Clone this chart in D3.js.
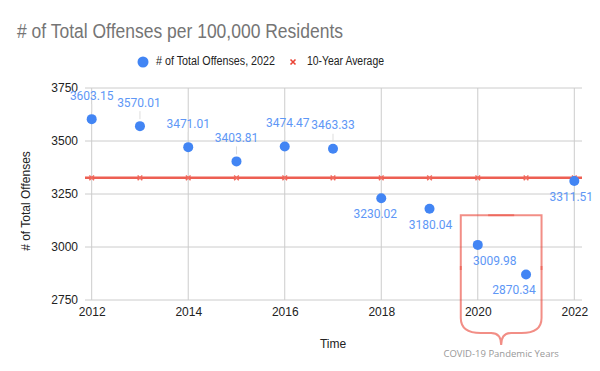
<!DOCTYPE html>
<html>
<head>
<meta charset="utf-8">
<script src="https://cdn.jsdelivr.net/npm/d3@7"></script>
<style>
  body { margin: 0; background: #fff; }
  svg { font-family: Arial, "Liberation Sans", sans-serif; }
</style>
</head>
<body>
<div id="chart"></div>
<script>
// data
const years = [2012, 2013, 2014, 2015, 2016, 2017, 2018, 2019, 2020, 2021, 2022];
const offenses = [3603.15, 3570.01, 3471.01, 3403.81, 3474.47, 3463.33, 3230.02, 3180.04, 3009.98, 2870.34, 3311.51];
const tenYearAvg = [3326.15, 3326.15, 3326.15, 3326.15, 3326.15, 3326.15, 3326.15, 3326.15, 3326.15, 3326.15, 3326.15];
const yTicks = [2750, 3000, 3250, 3500, 3750];
const xTicks = [2012, 2014, 2016, 2018, 2020, 2022];
const covidYears = [2020, 2021];

// label placement (above / below the point, small nudges)
const labelSide = ["up", "up", "up", "up", "up", "up", "down", "down", "down", "down", "down"];
const labelNudge = [0, -1, 0, 0, 3, 0, -6, 1, 17, -12, -3];

const W = 600, H = 371;
const roboto = "Roboto, Arial, sans-serif";

const svg = d3.select("#chart")
  .append("svg")
  .attr("width", W)
  .attr("height", H);

const x = d3.scaleLinear()
  .domain([2012, 2022])
  .range([91.7, 574.3]);

const y = d3.scaleLinear()
  .domain([2750, 3750])
  .range([300, 88]);

const left = 85, right = 582;

// title
svg.append("text")
  .attr("x", 17)
  .attr("y", 37.5)
  .attr("font-size", 20)
  .attr("fill", "#757575")
  .attr("textLength", 326)
  .attr("lengthAdjust", "spacingAndGlyphs")
  .text("# of Total Offenses per 100,000 Residents");

// legend
const legend = svg.append("g");
legend.append("circle")
  .attr("cx", 143).attr("cy", 62).attr("r", 5.5)
  .attr("fill", "#4285f4");
legend.append("text")
  .attr("x", 156).attr("y", 62)
  .attr("dominant-baseline", "middle")
  .attr("font-size", 12).attr("fill", "#222")
  .attr("textLength", 119)
  .attr("lengthAdjust", "spacingAndGlyphs")
  .text("# of Total Offenses, 2022");
legend.append("path")
  .attr("d", d3.symbol(d3.symbolX, 18)())
  .attr("transform", "translate(293,62)")
  .attr("stroke", "#ea4335").attr("stroke-width", 1.6);
legend.append("text")
  .attr("x", 307).attr("y", 62)
  .attr("dominant-baseline", "middle")
  .attr("font-size", 12).attr("fill", "#222")
  .attr("textLength", 77)
  .attr("lengthAdjust", "spacingAndGlyphs")
  .text("10-Year Average");

// grid
svg.append("g")
  .selectAll("line")
  .data(yTicks)
  .enter()
  .append("line")
  .attr("x1", left).attr("x2", right)
  .attr("y1", d => y(d)).attr("y2", d => y(d))
  .attr("stroke", "#ccc").attr("stroke-width", 1);

svg.append("g")
  .selectAll("line")
  .data(xTicks)
  .enter()
  .append("line")
  .attr("x1", d => x(d)).attr("x2", d => x(d))
  .attr("y1", y(2750)).attr("y2", y(3750))
  .attr("stroke", "#ccc").attr("stroke-width", 1);

// axes
const yAxis = d3.axisLeft(y)
  .tickValues(yTicks)
  .tickFormat(d3.format("d"))
  .tickSize(0)
  .tickPadding(7);

svg.append("g")
  .attr("transform", `translate(${left}, 0)`)
  .call(yAxis)
  .call(g => g.select(".domain").remove())
  .selectAll("text")
  .attr("font-size", 12)
  .attr("font-family", "Arial, sans-serif")
  .attr("fill", "#222");

const xAxis = d3.axisBottom(x)
  .tickValues(xTicks)
  .tickFormat(d3.format("d"))
  .tickSize(0)
  .tickPadding(7);

svg.append("g")
  .attr("transform", `translate(0, ${y(2750)})`)
  .call(xAxis)
  .call(g => g.select(".domain").remove())
  .selectAll("text")
  .attr("font-size", 12)
  .attr("font-family", "Arial, sans-serif")
  .attr("fill", "#222");

// axis titles
svg.append("text")
  .attr("x", 333).attr("y", 348)
  .attr("text-anchor", "middle")
  .attr("font-size", 12).attr("fill", "#222")
  .text("Time");

svg.append("text")
  .attr("transform", "translate(30, 201) rotate(-90)")
  .attr("text-anchor", "middle")
  .attr("font-size", 12).attr("fill", "#222")
  .text("# of Total Offenses");

// average line
svg.append("line")
  .attr("x1", left).attr("x2", right)
  .attr("y1", y(tenYearAvg[0])).attr("y2", y(tenYearAvg[tenYearAvg.length - 1]))
  .attr("stroke", "#ea4335").attr("stroke-opacity", 0.85).attr("stroke-width", 2.5);

svg.append("g")
  .selectAll("path")
  .data(tenYearAvg)
  .enter()
  .append("path")
  .attr("d", d3.symbol(d3.symbolX, 16)())
  .attr("transform", (d, i) => `translate(${x(years[i])},${y(d)})`)
  .attr("stroke", "#f06a5e").attr("stroke-width", 1.5);

// leader lines for labels above points
svg.append("g")
  .selectAll("line")
  .data(years.filter((d, i) => labelSide[i] === "up"))
  .enter()
  .append("line")
  .attr("x1", d => x(d))
  .attr("x2", d => x(d))
  .attr("y1", d => y(offenses[years.indexOf(d)]) - 7)
  .attr("y2", d => y(offenses[years.indexOf(d)]) - 15)
  .attr("stroke", "#ddd").attr("stroke-width", 1);

// points
svg.append("g")
  .selectAll("circle")
  .data(offenses)
  .enter()
  .append("circle")
  .attr("cx", (d, i) => x(years[i]))
  .attr("cy", d => y(d))
  .attr("r", 5)
  .attr("fill", "#4285f4");

// data labels
svg.append("g")
  .selectAll("text")
  .data(offenses)
  .enter()
  .append("text")
  .attr("x", (d, i) => x(years[i]) + labelNudge[i])
  .attr("y", (d, i) => y(d) + (labelSide[i] === "up" ? -22.5 : 16.5))
  .attr("text-anchor", "middle")
  .attr("dominant-baseline", "middle")
  .attr("font-family", roboto)
  .attr("font-size", 12)
  .attr("fill", "#5e97f6")
  .text(d => d3.format(".2f")(d));

// COVID bracket annotation
const bx0 = x(covidYears[0]) - 17, bx1 = x(covidYears[1]) + 15.5;
const bTop = y(3150), bSide = 318, bCurve = 333, bTip = 345;
const bMid = (bx0 + bx1) / 2;

const bracket = d3.path();
bracket.moveTo(bx0, bSide);
bracket.lineTo(bx0, bTop);
bracket.lineTo(bx1, bTop);
bracket.lineTo(bx1, bSide);
bracket.quadraticCurveTo(bx1, bCurve, bx1 - 20, bCurve);
bracket.lineTo(bMid + 10, bCurve);
bracket.quadraticCurveTo(bMid, bCurve, bMid, bTip);
bracket.quadraticCurveTo(bMid, bCurve, bMid - 10, bCurve);
bracket.lineTo(bx0 + 20, bCurve);
bracket.quadraticCurveTo(bx0, bCurve, bx0, bSide);

svg.append("path")
  .attr("d", bracket.toString())
  .attr("fill", "none")
  .attr("stroke", "#ea4335")
  .attr("stroke-opacity", 0.6)
  .attr("stroke-width", 2);

// darker handle marks on the bracket
const handles = svg.append("g")
  .attr("stroke", "#ea4335").attr("stroke-opacity", 0.5).attr("stroke-width", 2);
handles.append("line")
  .attr("x1", bMid - 13).attr("x2", bMid + 13)
  .attr("y1", bTop).attr("y2", bTop);
handles.append("line")
  .attr("x1", bx0).attr("x2", bx0)
  .attr("y1", 266).attr("y2", 270);
handles.append("line")
  .attr("x1", bx1).attr("x2", bx1)
  .attr("y1", 266).attr("y2", 270);

svg.append("text")
  .attr("x", bMid).attr("y", 354)
  .attr("text-anchor", "middle")
  .attr("dominant-baseline", "middle")
  .attr("font-family", "'Open Sans', sans-serif")
  .attr("font-size", 9.5)
  .attr("fill", "#999")
  .text("COVID-19 Pandemic Years");
</script>
</body>
</html>
